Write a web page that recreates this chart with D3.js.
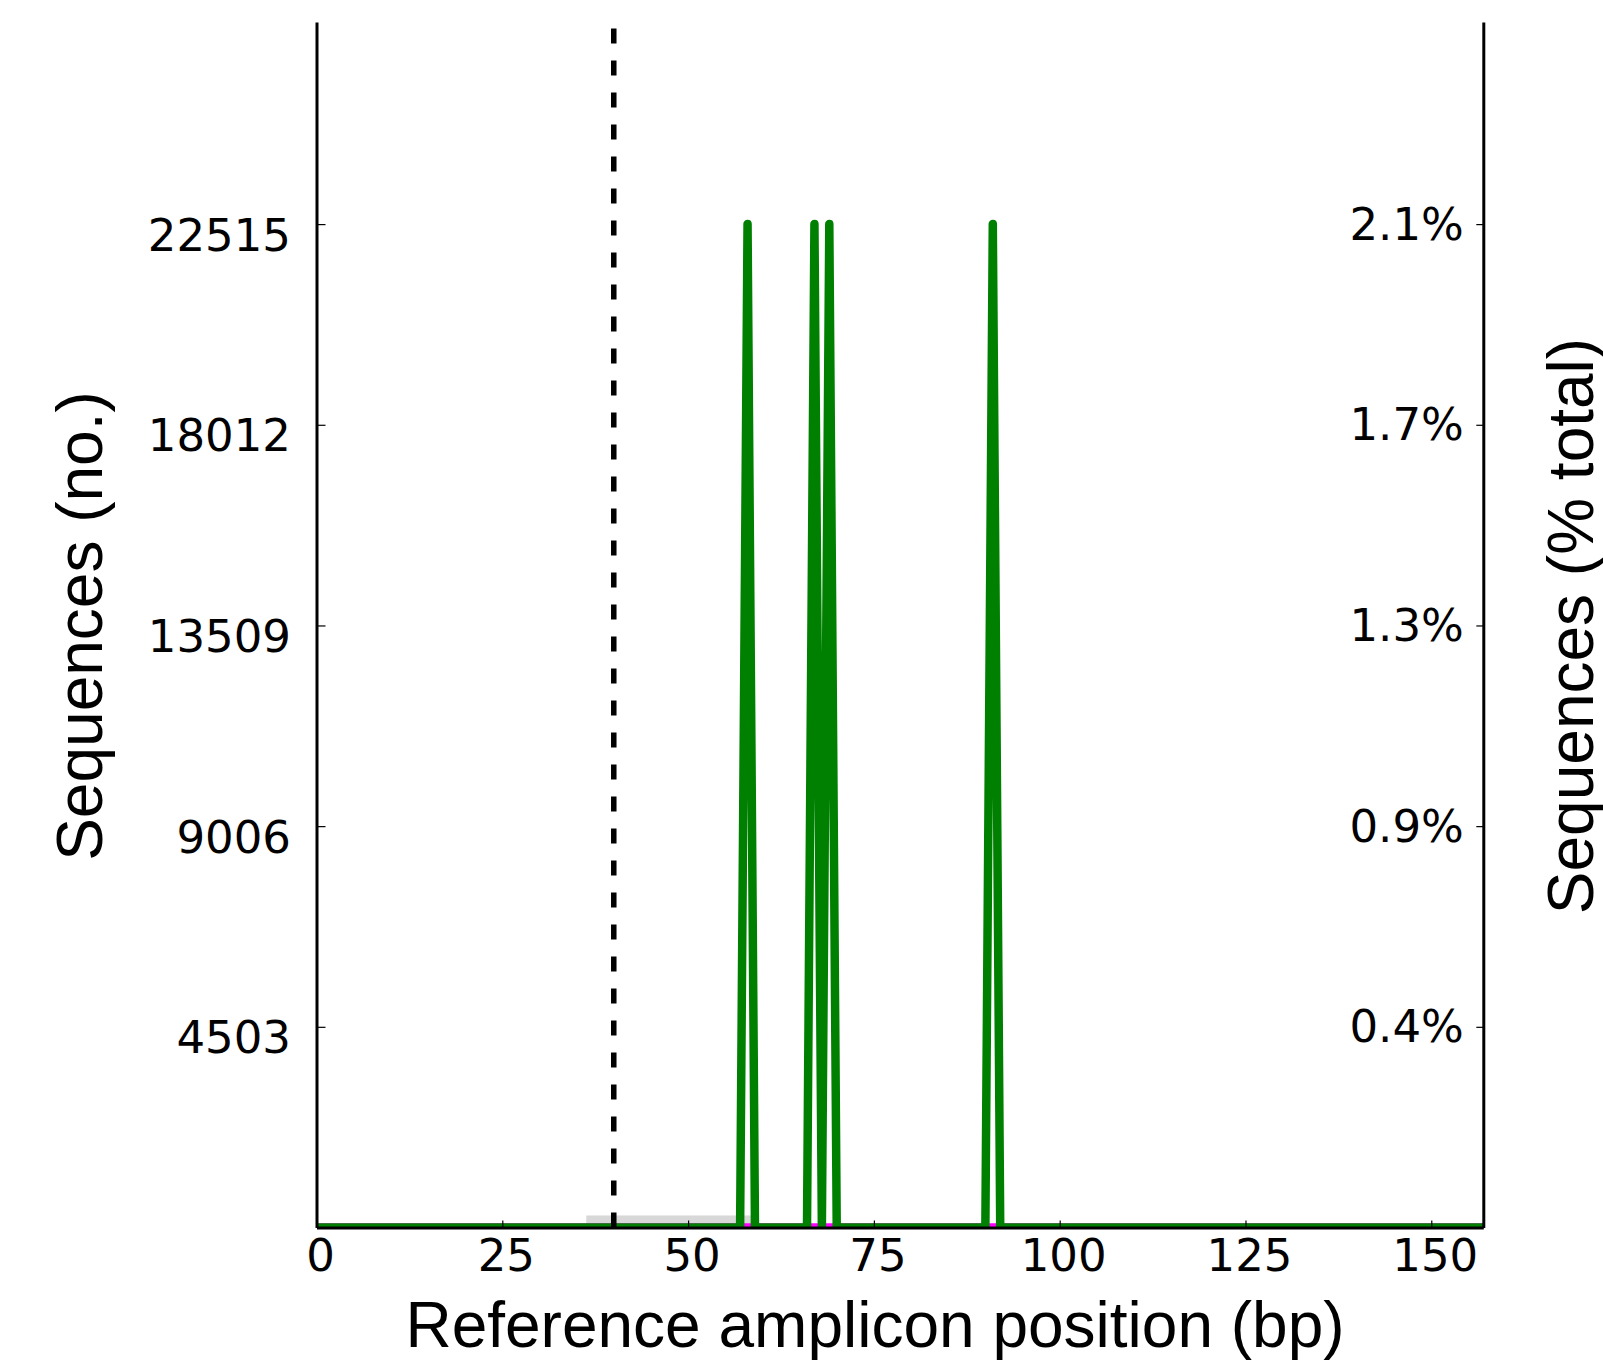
<!DOCTYPE html>
<html>
<head>
<meta charset="utf-8">
<script src="https://cdn.jsdelivr.net/npm/d3@7"></script>
<style>
    body { margin: 0; background: #fff; }
    .tick text { font-family: "DejaVu Sans", sans-serif; font-size: 45px; fill: #000; }
    .axis-label { font-family: "Liberation Sans", Arial, sans-serif; font-size: 64px; fill: #000; }
</style>
</head>
<body>
<svg id="chart" width="1603" height="1366"></svg>
<script>
/**
 * Data.
 */
const amplicon = [0, 157]; // shown range of reference positions (bp)
// Substitutions: every position not listed here has 0 sequences
const substitutionPositions = [58, 67, 69, 91],
    substitutionCounts = [22515, 22515, 22515, 22515];
const deletionPositions = [],
    deletionCounts = [];
const cutSite = 40;
const sgRNA = [36.3, 58.7],
    sgRNAHeight = 270;
const yMax = 27050;
const yTicks = [4503, 9006, 13509, 18012, 22515],
    yTickPercents = ['0.4%', '0.9%', '1.3%', '1.7%', '2.1%'],
    xTicks = [0, 25, 50, 75, 100, 125, 150];
const xTitle = 'Reference amplicon position (bp)',
    yTitle = 'Sequences (no.)',
    y2Title = 'Sequences (% total)';

/**
 * Visual configs.
 */
const plot = { left: 316.5, right: 1483.3, top: 22, bottom: 1227.5 },
    lineWidth = 8.5;

const svg = d3.select('#chart');

const xScale = d3.scaleLinear().domain(amplicon).range([plot.left, plot.right]),
    yScale = d3.scaleLinear().domain([0, yMax]).range([plot.bottom, plot.top]);

// Per-position series built from the sparse lists above
const positions = d3.range(amplicon[0], amplicon[1] + 1);
function series(pos, counts) {
    const lookup = new Map(pos.map((p, i) => [p, counts[i]]));
    return positions.map(p => ({ pos: p, value: lookup.has(p) ? lookup.get(p) : 0 }));
}

svg.append('defs').append('clipPath').attr('id', 'plot-clip')
    .append('rect')
        .attr('x', plot.left)
        .attr('y', plot.top)
        .attr('width', plot.right - plot.left)
        .attr('height', plot.bottom - plot.top);

const content = svg.append('g').attr('clip-path', 'url(#plot-clip)');

// sgRNA region
content.append('rect')
    .attr('x', xScale(sgRNA[0]))
    .attr('y', yScale(sgRNAHeight))
    .attr('width', xScale(sgRNA[1]) - xScale(sgRNA[0]))
    .attr('height', yScale(0) - yScale(sgRNAHeight))
    .attr('fill', '#d8d8d8');

const line = d3.line()
    .x(d => xScale(d.pos))
    .y(d => yScale(d.value));

content.append('path')
    .datum(series(deletionPositions, deletionCounts))
    .attr('d', line)
    .attr('fill', 'none')
    .attr('stroke', '#ff00ff')
    .attr('stroke-width', lineWidth)
    .attr('stroke-linejoin', 'round');

content.append('path')
    .datum(series(substitutionPositions, substitutionCounts))
    .attr('d', line)
    .attr('fill', 'none')
    .attr('stroke', '#008000')
    .attr('stroke-width', lineWidth)
    .attr('stroke-linejoin', 'round');

// Cut site, dashes start from the bottom
content.append('line')
    .attr('x1', xScale(cutSite))
    .attr('x2', xScale(cutSite))
    .attr('y1', yScale(0))
    .attr('y2', yScale(yMax))
    .attr('stroke', '#000')
    .attr('stroke-width', 5.5)
    .attr('stroke-dasharray', '15,17');

/**
 * Axes.
 */
function styleAxis(g) {
    g.select('.domain').attr('stroke', '#000').attr('stroke-width', 3);
    g.selectAll('.tick line').attr('stroke', '#000').attr('stroke-width', 1.2);
}

svg.append('g')
    .attr('class', 'axis x-axis')
    .attr('transform', 'translate(0,' + plot.bottom + ')')
    .call(d3.axisBottom(xScale).tickValues(xTicks).tickSizeInner(-7).tickSizeOuter(0))
    .call(styleAxis)
    .call(g => g.selectAll('.tick text')
        .attr('x', 3.5)
        .attr('y', 43.5)
        .attr('dy', null));

svg.append('g')
    .attr('class', 'axis y-axis')
    .attr('transform', 'translate(' + plot.left + ',0)')
    .call(d3.axisLeft(yScale).tickValues(yTicks).tickFormat(d3.format('d')).tickSizeInner(-9).tickSizeOuter(0))
    .call(styleAxis)
    .call(g => g.selectAll('.tick text')
        .attr('x', -25.5)
        .attr('dy', null)
        .attr('y', 26));

svg.append('g')
    .attr('class', 'axis y2-axis')
    .attr('transform', 'translate(' + plot.right + ',0)')
    .call(d3.axisRight(yScale).tickValues(yTicks).tickFormat((d, i) => yTickPercents[i]).tickSizeInner(-7).tickSizeOuter(0))
    .call(styleAxis)
    .call(g => g.selectAll('.tick text')
        .attr('x', -19.5)
        .attr('text-anchor', 'end')
        .attr('dy', null)
        .attr('y', 15));

// Axis titles
svg.append('text')
    .attr('class', 'axis-label')
    .attr('x', 875)
    .attr('y', 1347)
    .attr('text-anchor', 'middle')
    .text(xTitle);

svg.append('text')
    .attr('class', 'axis-label')
    .attr('transform', 'translate(102,626) rotate(-90)')
    .attr('text-anchor', 'middle')
    .text(yTitle);

svg.append('text')
    .attr('class', 'axis-label')
    .attr('transform', 'translate(1593,626) rotate(-90)')
    .attr('text-anchor', 'middle')
    .text(y2Title);
</script>
</body>
</html>
